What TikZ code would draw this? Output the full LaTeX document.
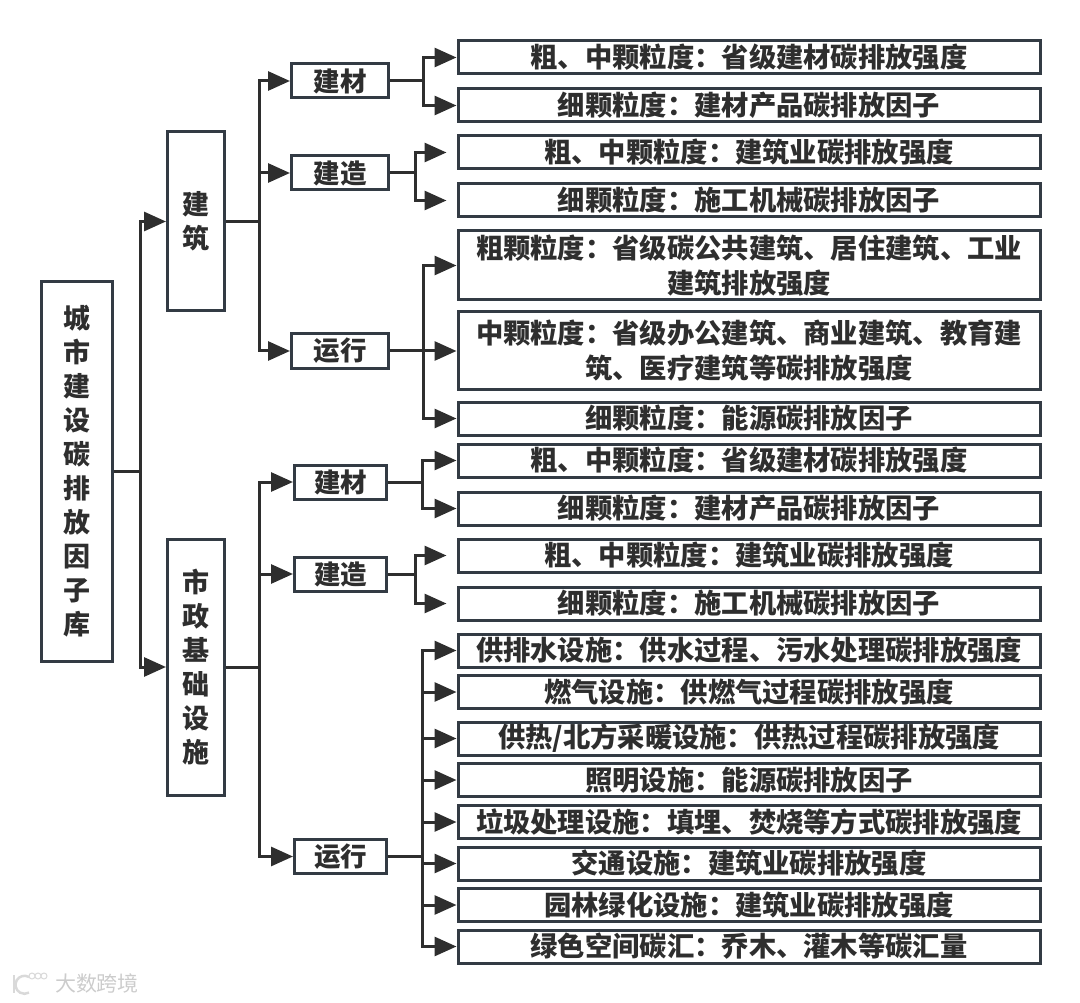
\documentclass[tikz,border=0pt]{standalone}
\usepackage{fontspec}
\setmainfont{Noto Sans CJK SC}
\usetikzlibrary{positioning, arrows.meta}
\definecolor{borde}{HTML}{333B44}
\definecolor{linea}{HTML}{2E2E2E}
\tikzset{
    base/.style={rectangle, draw=borde, line width=3pt, align=center, inner sep=0pt, text=linea, font=\bfseries},
    box_raiz/.style={base, minimum width=71pt, minimum height=379pt, font=\fontsize{27}{34}\selectfont\bfseries},
    box_medio/.style={base, minimum width=57pt, font=\fontsize{27}{34}\selectfont\bfseries},
    box_obra/.style={base, minimum width=97pt, minimum height=34pt, font=\fontsize{26.5}{32}\selectfont\bfseries},
    box_obra_b/.style={box_obra, minimum width=92pt},
    box_hoja/.style={base, minimum width=582pt, minimum height=33pt, font=\fontsize{27.3}{35}\selectfont\bfseries},
    flecha/.style={draw=linea, line width=3pt, -{Triangle[length=22pt,width=19pt]}},
    flecha_corta/.style={flecha, shorten >=10pt}
}
\begin{document}
\begin{tikzpicture}[x=1pt, y=-1pt]
    \useasboundingbox (0,0) rectangle (1080,1003);

    % 1. Raiz y dos ramas
    \node[box_raiz] (root) at (76.5,471.5) {城\\市\\建\\设\\碳\\排\\放\\因\\子\\库};
    \node[box_medio, minimum height=179pt] (edif) at (196,221.5) {建\\筑};
    \node[box_medio, minimum height=256pt] (muni) at (196,667) {市\\政\\基\\础\\设\\施};

    % 2. Fila del medio
    \node[box_obra] (edif_mat) at (340,81) {建材};
    \node[box_obra] (edif_con) at (340,173) {建造};
    \node[box_obra] (edif_ope) at (340,351) {运行};
    \node[box_obra_b] (muni_mat) at (340.5,482) {建材};
    \node[box_obra_b] (muni_con) at (340.5,574) {建造};
    \node[box_obra_b] (muni_ope) at (340.5,856.5) {运行};

    % 3. Cajas finales: edificios
    \node[box_hoja] (h1) at (749,57.5) {粗、中颗粒度：省级建材碳排放强度};
    \node[box_hoja] (h2) at (749,105.5) {细颗粒度：建材产品碳排放因子};
    \node[box_hoja] (h3) at (749,152.5) {粗、中颗粒度：建筑业碳排放强度};
    \node[box_hoja] (h4) at (749,200.5) {细颗粒度：施工机械碳排放因子};
    \node[box_hoja, minimum height=69pt] (h5) at (749,265.5) {粗颗粒度：省级碳公共建筑、居住建筑、工业\\建筑排放强度};
    \node[box_hoja, minimum height=77pt] (h6) at (749,350.5) {中颗粒度：省级办公建筑、商业建筑、教育建\\筑、医疗建筑等碳排放强度};
    \node[box_hoja] (h7) at (749,418.5) {细颗粒度：能源碳排放因子};

    % 4. Cajas finales: infraestructura
    \node[box_hoja] (m1) at (749,460.5) {粗、中颗粒度：省级建材碳排放强度};
    \node[box_hoja] (m2) at (749,508.5) {细颗粒度：建材产品碳排放因子};
    \node[box_hoja] (m3) at (749,555.5) {粗、中颗粒度：建筑业碳排放强度};
    \node[box_hoja] (m4) at (749,603.5) {细颗粒度：施工机械碳排放因子};
    \node[box_hoja] (s1) at (749,650.5) {供排水设施：供水过程、污水处理碳排放强度};
    \node[box_hoja] (s2) at (749,692) {燃气设施：供燃气过程碳排放强度};
    \node[box_hoja] (s3) at (749,738.5) {供热/北方采暖设施：供热过程碳排放强度};
    \node[box_hoja] (s4) at (749,780) {照明设施：能源碳排放因子};
    \node[box_hoja] (s5) at (749,822) {垃圾处理设施：填埋、焚烧等方式碳排放强度};
    \node[box_hoja] (s6) at (749,863.5) {交通设施：建筑业碳排放强度};
    \node[box_hoja] (s7) at (749,905) {园林绿化设施：建筑业碳排放强度};
    \node[box_hoja] (s8) at (749,946.5) {绿色空间碳汇：乔木、灌木等碳汇量};

    % Marca de agua
    \node[text=gray!40, font=\fontsize{21}{21}\selectfont, inner sep=0pt] (marca) at (97,983) {大数跨境};
    \coordinate (logo) at (14,983);
    \draw[gray!30, line width=2.5pt] (logo) ++(0,-8) -- ++(0,18);
    \draw[gray!30, line width=2.5pt] (logo) ++(15,-6) arc (300:60:9);
    \draw[gray!30, line width=1pt] (logo) ++(18,-7) circle (3) ++(6,0) circle (3) ++(6,0) circle (3);

    % --- CONEXIONES ---
    \draw[flecha] (root.east) -- ++(27,0) |- (edif.west);
    \draw[flecha] (root.east) -- ++(27,0) |- (muni.west);

    \draw[flecha] (edif.east) -- ++(33,0) |- (edif_mat.west);
    \draw[flecha] (edif.east) -- ++(33,0) |- (edif_con.west);
    \draw[flecha] (edif.east) -- ++(33,0) |- (edif_ope.west);

    \draw[flecha] (muni.east) -- ++(33,0) |- (muni_mat.west);
    \draw[flecha] (muni.east) -- ++(33,0) |- (muni_con.west);
    \draw[flecha] (muni.east) -- ++(33,0) |- (muni_ope.west);

    \draw[flecha] (edif_mat.east) -- ++(33,0) |- (h1.west);
    \draw[flecha] (edif_mat.east) -- ++(33,0) |- (h2.west);
    \draw[flecha_corta] (edif_con.east) -- ++(25,0) |- (h3.west);
    \draw[flecha_corta] (edif_con.east) -- ++(25,0) |- (h4.west);
    \draw[flecha] (edif_ope.east) -- ++(33,0) |- (h5.west);
    \draw[flecha] (edif_ope.east) -- (edif_ope.east -| h6.west);
    \draw[flecha] (edif_ope.east) -- ++(33,0) |- (h7.west);

    \draw[flecha] (muni_mat.east) -- ++(34,0) |- (m1.west);
    \draw[flecha] (muni_mat.east) -- ++(34,0) |- (m2.west);
    \draw[flecha_corta] (muni_con.east) -- ++(27,0) |- (m3.west);
    \draw[flecha_corta] (muni_con.east) -- ++(27,0) |- (m4.west);

    \draw[flecha] (muni_ope.east) -- ++(34,0) |- (s1.west);
    \draw[flecha] (muni_ope.east) -- ++(34,0) |- (s2.west);
    \draw[flecha] (muni_ope.east) -- ++(34,0) |- (s3.west);
    \draw[flecha] (muni_ope.east) -- ++(34,0) |- (s4.west);
    \draw[flecha] (muni_ope.east) -- ++(34,0) |- (s5.west);
    \draw[flecha] (muni_ope.east) -- ++(34,0) |- (s6.west);
    \draw[flecha] (muni_ope.east) -- ++(34,0) |- (s7.west);
    \draw[flecha] (muni_ope.east) -- ++(34,0) |- (s8.west);
\end{tikzpicture}
\end{document}
